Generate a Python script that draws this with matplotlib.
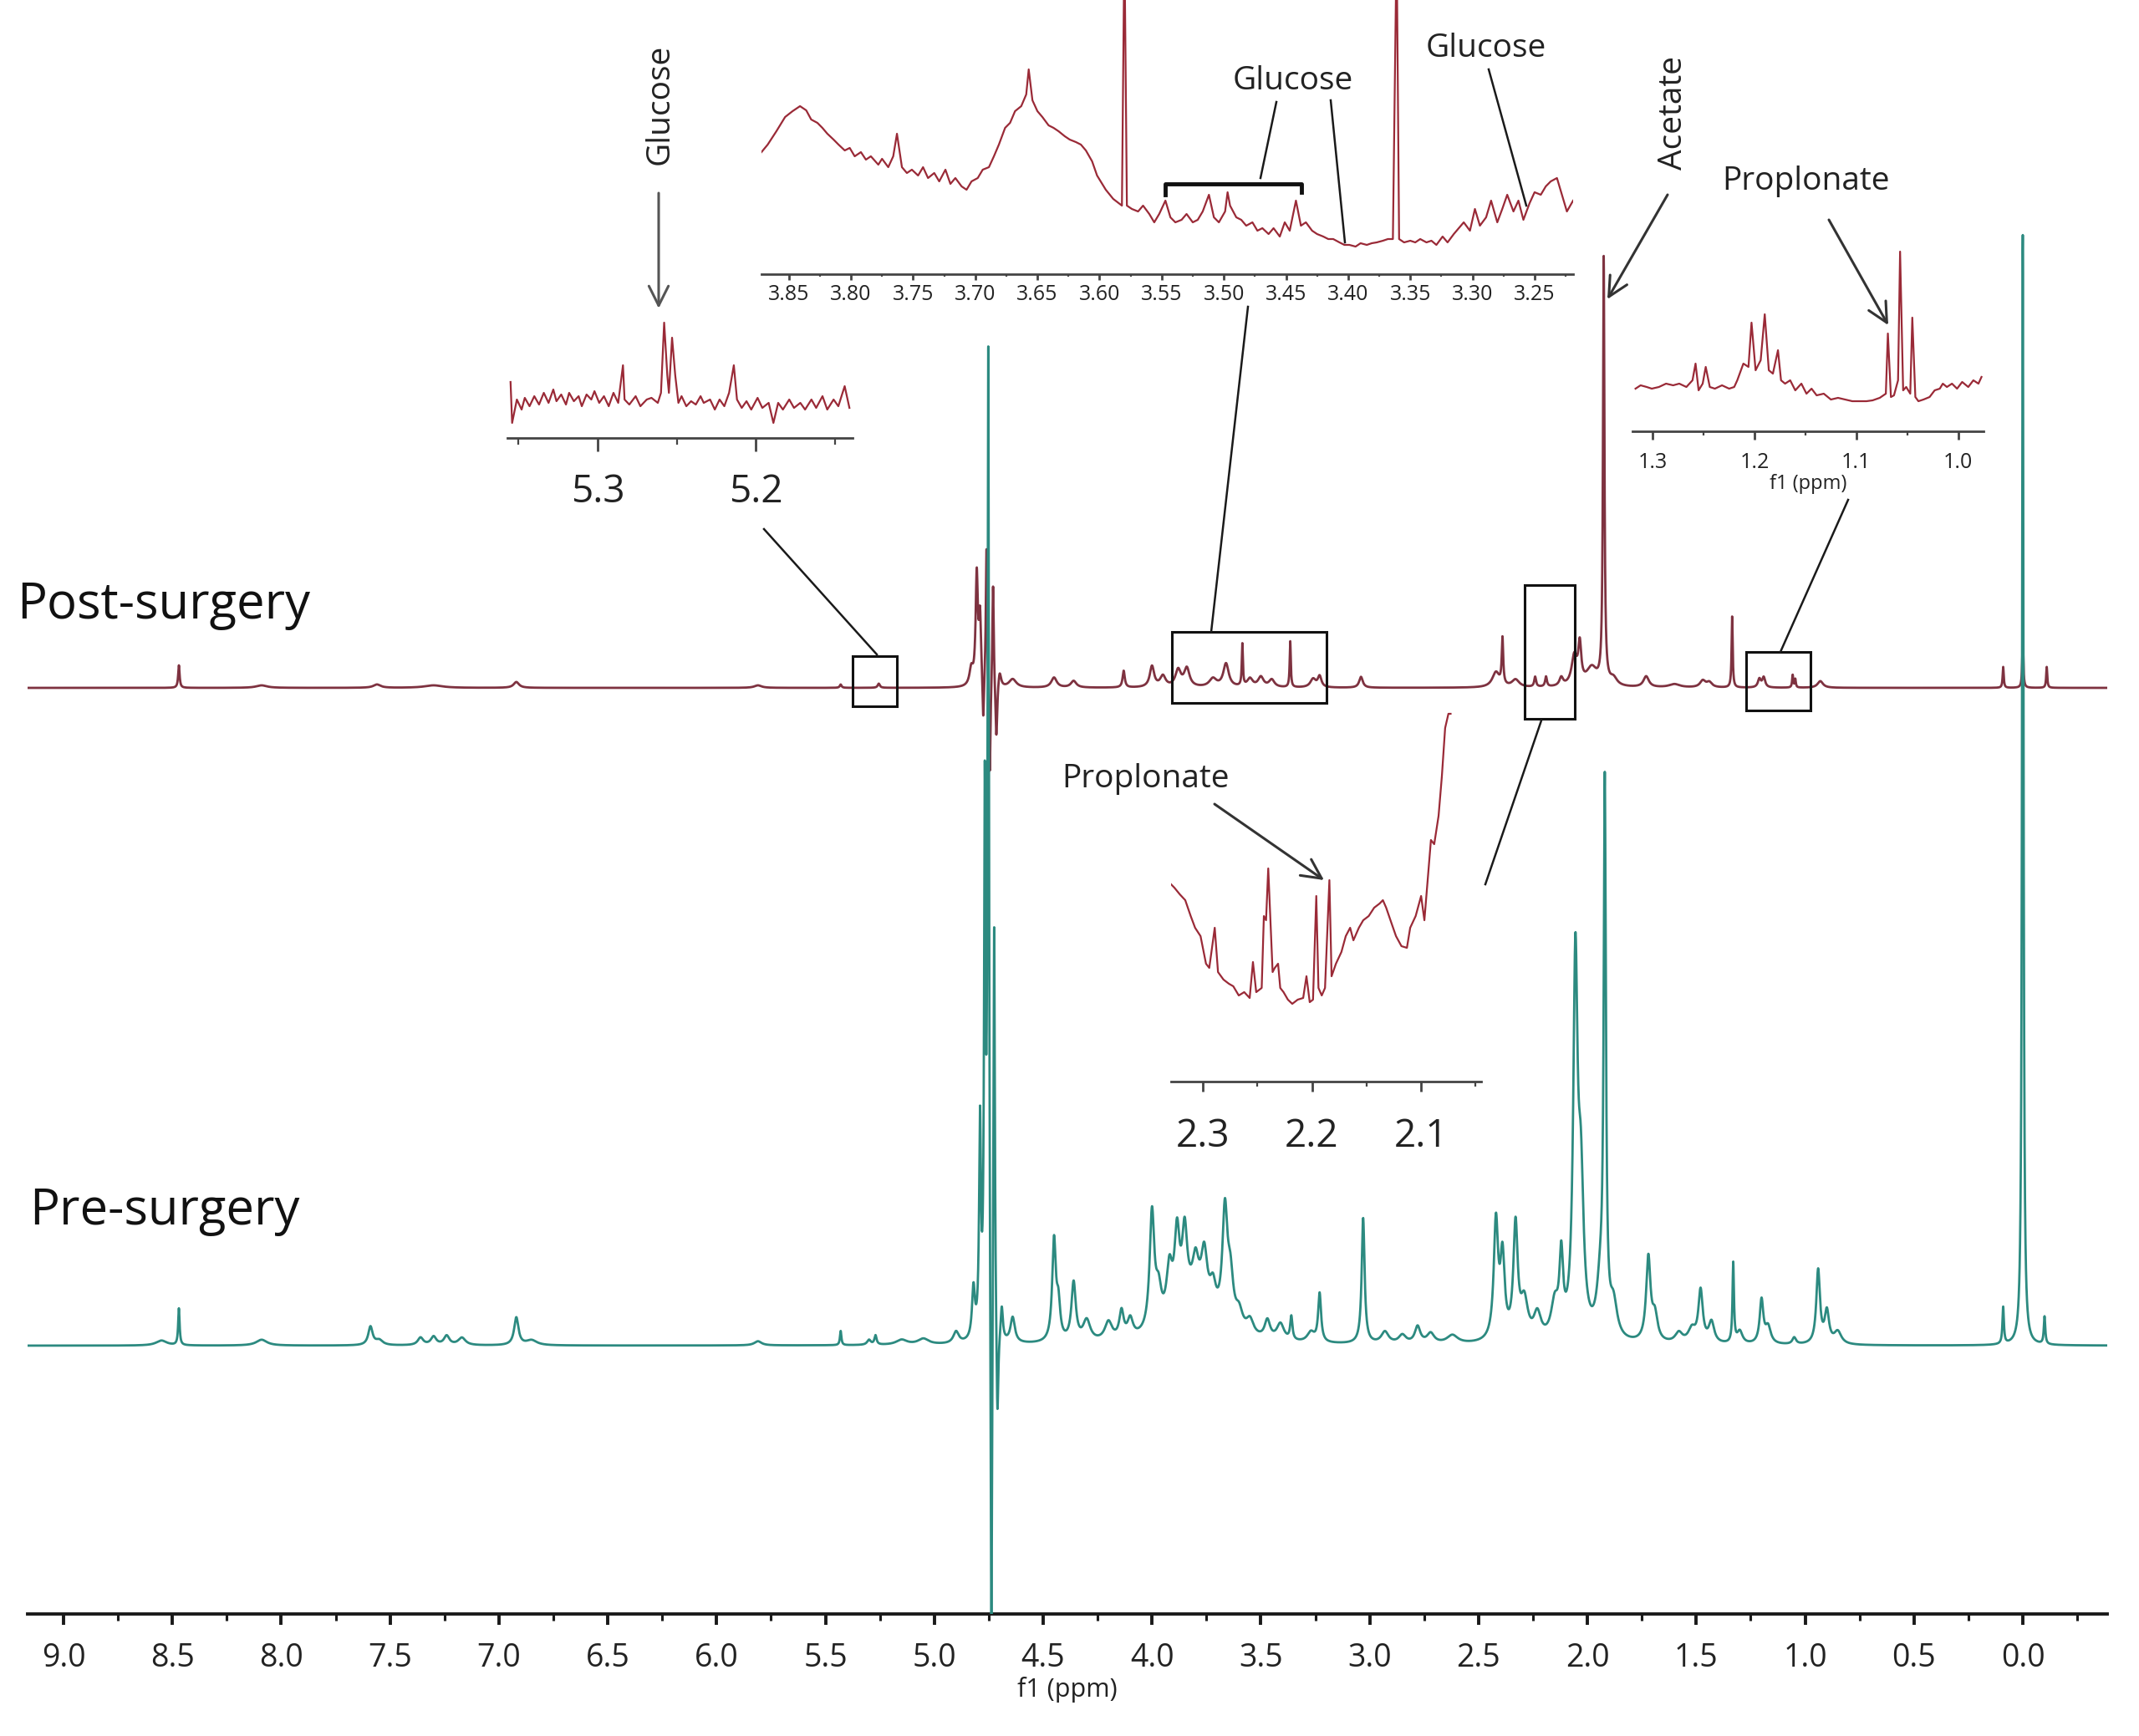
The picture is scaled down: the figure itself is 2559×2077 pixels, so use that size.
import numpy as np
import matplotlib
matplotlib.use("Agg")
import matplotlib.pyplot as plt
from matplotlib.ticker import MultipleLocator, FormatStrFormatter

plt.rcParams['font.family'] = ['Open Sans', 'DejaVu Sans']

W, H = 2559, 2077

# --- main spectra: peak lists (ppm, height, half width) ---
# pre-surgery (teal)
pre_ppm = [8.55, 8.47, 8.09, 7.59, 7.55, 7.36, 7.30, 7.24, 7.17, 6.92, 6.85,
           5.81, 5.43, 5.30, 5.27, 5.15, 5.05, 4.90,
           4.82, 4.79, 4.768, 4.752, 4.738, 4.725, 4.71, 4.69, 4.64,
           4.45, 4.43, 4.36, 4.30, 4.20, 4.14, 4.10, 4.00, 3.97, 3.92, 3.885,
           3.85, 3.80, 3.76, 3.72, 3.80, 3.665, 3.64, 3.60, 3.55, 3.47, 3.41,
           3.36, 3.27, 3.23, 3.03, 2.93, 2.85, 2.78, 2.72, 2.62,
           2.42, 2.39, 2.33, 2.29, 2.23, 2.15, 2.12, 2.055, 2.03,
           1.94, 1.92, 1.88, 1.72, 1.69, 1.58, 1.52, 1.48, 1.43, 1.33, 1.30,
           1.20, 1.17, 1.05, 0.94, 0.90, 0.85, 0.09, 0.0, -0.10]
pre_height = [6, 44, 7, 22, 6, 9, 10, 11, 9, 33, 6,
              5, 17, 6, 11, 6, 7, 14,
              60, 250, 620, 1180, -500, 520, -120, 40, 30,
              120, 40, 70, 25, 22, 32, 22, 140, 40, 60, 92,
              85, 40, 58, 30, 55, 132, 55, 22, 18, 22, 20,
              28, 12, 58, 150, 14, 10, 20, 12, 10,
              140, 95, 135, 45, 30, 40, 90, 440, 170,
              60, 640, 40, 100, 30, 12, 16, 62, 25, 95, 15,
              52, 20, 8, 88, 38, 15, 44, 1330, 33]
pre_width = [0.03, 0.004, 0.03, 0.012, 0.02, 0.015, 0.015, 0.015, 0.02, 0.012, 0.03,
             0.02, 0.004, 0.01, 0.006, 0.03, 0.03, 0.015,
             0.008, 0.005, 0.004, 0.004, 0.004, 0.004, 0.005, 0.006, 0.012,
             0.010, 0.010, 0.012, 0.02, 0.02, 0.012, 0.015, 0.013, 0.016, 0.016, 0.014,
             0.014, 0.016, 0.016, 0.016, 0.10, 0.014, 0.016, 0.02, 0.02, 0.015, 0.02,
             0.006, 0.02, 0.008, 0.008, 0.02, 0.02, 0.015, 0.02, 0.03,
             0.012, 0.012, 0.012, 0.02, 0.02, 0.02, 0.01, 0.012, 0.015,
             0.02, 0.006, 0.02, 0.012, 0.015, 0.02, 0.02, 0.012, 0.015, 0.004, 0.015,
             0.01, 0.015, 0.01, 0.01, 0.012, 0.02, 0.004, 0.004, 0.004]

# post-surgery (dark red)
post_ppm = [8.47, 8.09, 7.56, 7.30, 6.92, 5.81, 5.43, 5.255,
            4.83, 4.805, 4.79, 4.775, 4.76, 4.745, 4.73, 4.715, 4.70,
            4.64, 4.45, 4.36, 4.13, 4.00, 3.95, 3.88, 3.84, 3.72, 3.66, 3.585,
            3.55, 3.50, 3.45, 3.365, 3.26, 3.23, 3.04,
            2.42, 2.39, 2.33, 2.24, 2.19, 2.12, 2.06, 2.035, 1.98, 1.925, 1.88,
            1.73, 1.60, 1.47, 1.44, 1.335, 1.21, 1.19, 1.057, 1.045, 0.93,
            0.09, 0.0, -0.11]
post_height = [27, 3, 4, 3, 7, 3, 4, 5,
               20, 130, 80, -60, 170, -120, 130, -70, 20,
               10, 12, 8, 20, 25, 13, 20, 22, 10, 28, 50,
               10, 12, 9, 55, 10, 13, 13,
               18, 55, 9, 12, 12, 10, 35, 45, 22, 510, 9,
               13, 4, 8, 6, 85, 10, 12, 15, 10, 8,
               25, 60, 25]
post_width = [0.004, 0.03, 0.02, 0.05, 0.015, 0.02, 0.005, 0.006,
              0.01, 0.006, 0.006, 0.004, 0.004, 0.004, 0.004, 0.005, 0.008,
              0.02, 0.015, 0.015, 0.006, 0.012, 0.015, 0.015, 0.015, 0.02, 0.015, 0.003,
              0.015, 0.015, 0.015, 0.003, 0.015, 0.01, 0.01,
              0.02, 0.004, 0.02, 0.005, 0.005, 0.01, 0.015, 0.008, 0.03, 0.004, 0.02,
              0.015, 0.03, 0.015, 0.015, 0.003, 0.008, 0.008, 0.003, 0.003, 0.015,
              0.003, 0.003, 0.003]

POST_BASE = 1108
PRE_BASE = 321

# --- zoom boxes on the post-surgery trace (ppm range, intensity range) ---
box_ppm = [(5.375, 5.171), (3.907, 3.200), (2.290, 2.059), (1.272, 0.976)]
box_int = [(-22, 38), (-18, 67), (-37, 123), (-27, 43)]

# --- inset traces ---
inA_ppm = [5.355, 5.354, 5.351, 5.348, 5.346, 5.343, 5.340, 5.337, 5.334, 5.331,
           5.328, 5.326, 5.323, 5.320, 5.318, 5.315, 5.312, 5.310, 5.307, 5.304,
           5.302, 5.299, 5.296, 5.293, 5.290, 5.287, 5.284, 5.283, 5.280, 5.276,
           5.273, 5.269, 5.266, 5.262, 5.260, 5.258, 5.256, 5.255, 5.253, 5.251,
           5.249, 5.247, 5.244, 5.241, 5.238, 5.235, 5.233, 5.229, 5.226, 5.223,
           5.220, 5.217, 5.214, 5.212, 5.209, 5.206, 5.203, 5.199, 5.196, 5.192,
           5.189, 5.186, 5.183, 5.179, 5.176, 5.172, 5.169, 5.165, 5.162, 5.158,
           5.155, 5.151, 5.148, 5.144, 5.141]
inA_int = [29, -20, 8, -4, 10, 0, 12, 2, 16, 4,
           20, 6, 14, 2, 16, 6, 12, 0, 14, 8,
           18, 4, 12, 0, 16, 4, 49, 8, 2, 12,
           0, 8, 10, 4, 16, 100, 37, 16, 82, 37,
           4, 12, 0, 6, 2, 12, 4, 8, -4, 8,
           0, 16, 49, 8, -2, 6, -4, 10, -2, 4,
           -20, 4, -4, 8, -2, 4, -4, 8, -2, 12,
           -4, 8, 0, 24, -2]

inB_ppm = [3.872, 3.867, 3.860, 3.853, 3.847, 3.841, 3.836, 3.832, 3.827, 3.823,
           3.819, 3.814, 3.810, 3.805, 3.801, 3.797, 3.792, 3.788, 3.784, 3.778,
           3.775, 3.770, 3.766, 3.763, 3.759, 3.755, 3.751, 3.746, 3.742, 3.738,
           3.733, 3.729, 3.724, 3.720, 3.716, 3.711, 3.707, 3.703, 3.698, 3.694,
           3.689, 3.685, 3.681, 3.676, 3.672, 3.668, 3.663, 3.659, 3.657, 3.654,
           3.650, 3.646, 3.641, 3.637, 3.633, 3.628, 3.624, 3.619, 3.615, 3.611,
           3.606, 3.602, 3.595, 3.589, 3.582, 3.580, 3.578, 3.574, 3.569, 3.565,
           3.560, 3.556, 3.552, 3.547, 3.543, 3.539, 3.534, 3.530, 3.525, 3.521,
           3.517, 3.512, 3.508, 3.504, 3.499, 3.497, 3.495, 3.490, 3.486, 3.482,
           3.477, 3.473, 3.469, 3.464, 3.460, 3.455, 3.451, 3.447, 3.442, 3.438,
           3.434, 3.429, 3.425, 3.420, 3.416, 3.412, 3.407, 3.403, 3.399, 3.394,
           3.390, 3.385, 3.381, 3.377, 3.372, 3.368, 3.364, 3.361, 3.359, 3.355,
           3.350, 3.346, 3.342, 3.337, 3.333, 3.329, 3.324, 3.320, 3.315, 3.311,
           3.307, 3.302, 3.298, 3.294, 3.289, 3.285, 3.280, 3.276, 3.272, 3.267,
           3.263, 3.259, 3.254, 3.250, 3.245, 3.241, 3.237, 3.232, 3.228, 3.224,
           3.219]
inB_int = [146, 155, 171, 188, 195, 201, 196, 185, 181, 175,
           168, 161, 155, 148, 151, 141, 146, 137, 141, 131,
           138, 128, 141, 168, 128, 121, 125, 118, 128, 115,
           121, 111, 125, 108, 115, 105, 101, 111, 115, 125,
           128, 141, 155, 175, 181, 195, 201, 215, 245, 208,
           195, 188, 178, 175, 171, 165, 161, 158, 155, 148,
           135, 118, 101, 90, 82, 400, 82, 78, 75, 82,
           72, 62, 72, 88, 68, 62, 65, 72, 62, 65,
           75, 95, 68, 62, 75, 98, 82, 68, 65, 58,
           62, 52, 55, 48, 55, 45, 62, 52, 88, 58,
           62, 52, 48, 45, 42, 42, 38, 35, 35, 33,
           37, 35, 37, 38, 40, 42, 42, 400, 42, 38,
           40, 38, 42, 38, 40, 35, 45, 38, 48, 55,
           62, 52, 78, 58, 68, 88, 62, 78, 95, 75,
           88, 65, 85, 98, 95, 105, 111, 115, 95, 75,
           88]

inC_ppm = [2.329, 2.326, 2.321, 2.316, 2.311, 2.307, 2.302, 2.297, 2.294, 2.289,
           2.286, 2.281, 2.276, 2.272, 2.267, 2.262, 2.257, 2.254, 2.251, 2.246,
           2.244, 2.242, 2.240, 2.238, 2.236, 2.234, 2.231, 2.229, 2.226, 2.222,
           2.218, 2.213, 2.208, 2.205, 2.202, 2.199, 2.196, 2.194, 2.191, 2.188,
           2.184, 2.182, 2.178, 2.173, 2.169, 2.165, 2.162, 2.157, 2.153, 2.148,
           2.143, 2.138, 2.135, 2.132, 2.127, 2.123, 2.118, 2.113, 2.110, 2.105,
           2.100, 2.097, 2.094, 2.091, 2.088, 2.084, 2.081, 2.078, 2.075, 2.073]
inC_int = [236, 232, 224, 217, 198, 184, 174, 141, 136, 184,
           131, 122, 117, 114, 103, 107, 100, 143, 107, 112,
           198, 193, 255, 193, 131, 136, 141, 112, 107, 98,
           93, 98, 100, 126, 95, 98, 222, 112, 103, 112,
           241, 126, 141, 155, 174, 184, 169, 184, 193, 198,
           208, 213, 217, 208, 189, 174, 162, 160, 184, 198,
           222, 193, 241, 289, 284, 318, 365, 423, 440, 440]

inD_ppm = [1.317, 1.312, 1.306, 1.301, 1.294, 1.287, 1.280, 1.274, 1.267, 1.261,
           1.258, 1.255, 1.251, 1.248, 1.244, 1.239, 1.232, 1.225, 1.220, 1.217,
           1.211, 1.206, 1.203, 1.199, 1.194, 1.190, 1.186, 1.182, 1.177, 1.174,
           1.170, 1.165, 1.160, 1.154, 1.149, 1.144, 1.139, 1.132, 1.125, 1.118,
           1.111, 1.104, 1.097, 1.090, 1.084, 1.077, 1.071, 1.069, 1.066, 1.063,
           1.059, 1.057, 1.054, 1.051, 1.047, 1.045, 1.042, 1.039, 1.034, 1.028,
           1.023, 1.018, 1.015, 1.011, 1.006, 1.001, 0.996, 0.990, 0.985, 0.980,
           0.977]
inD_int = [51, 55, 53, 51, 53, 57, 55, 57, 53, 61,
           81, 49, 57, 77, 53, 51, 55, 51, 53, 61,
           81, 77, 130, 73, 85, 140, 73, 69, 97, 61,
           57, 61, 49, 57, 45, 51, 43, 45, 38, 40,
           38, 36, 36, 36, 37, 40, 45, 117, 41, 43,
           61, 215, 49, 53, 45, 136, 41, 36, 38, 41,
           49, 51, 57, 53, 57, 51, 59, 53, 61, 57,
           65]

POST_COLOR = '#7e3240'
PRE_COLOR = '#2c8a80'
INSET_COLOR = '#9a2a37'
INK = '#222222'


def lorentz_sum(x, centers, heights, widths):
    y = np.zeros_like(x)
    for c, h, w in zip(centers, heights, widths):
        y += h * w ** 2 / ((x - c) ** 2 + w ** 2)
    return y


def px_axes(fig, x0, x1, ytop, ybot):
    return fig.add_axes([x0 / W, 1 - ybot / H, (x1 - x0) / W, (ybot - ytop) / H])


def style_axis(ax, xlim, ylim, major, minor, fmt, fs, ticklen, pad, lw=2.0, color='#444444'):
    ax.set_xlim(*xlim)
    ax.set_ylim(*ylim)
    for s in ['left', 'right', 'top']:
        ax.spines[s].set_visible(False)
    ax.spines['bottom'].set_color(color)
    ax.spines['bottom'].set_linewidth(lw)
    ax.set_yticks([])
    ax.xaxis.set_major_locator(MultipleLocator(major))
    ax.xaxis.set_minor_locator(MultipleLocator(minor))
    ax.xaxis.set_major_formatter(FormatStrFormatter(fmt))
    ax.tick_params(axis='x', which='major', length=ticklen, width=lw, pad=pad,
                   labelsize=fs, color=color, labelcolor=INK)
    ax.tick_params(axis='x', which='minor', length=ticklen * 0.5, width=lw * 0.8, color=color)
    ax.patch.set_visible(False)


fig = plt.figure(figsize=(W / 100, H / 100), dpi=100)

# main spectrum axes
ax = px_axes(fig, 33, 2521, 0, 1931)
style_axis(ax, (9.165, -0.388), (0, 1931), 0.5, 0.25, '%.1f', 27, 9.5, 15,
           lw=2.8, color='#1a1a1a')
ax.tick_params(axis='x', which='minor', length=6)
ax.set_xlabel('f1 (ppm)', fontsize=22, labelpad=2, color=INK)

x = np.linspace(9.165, -0.388, 30000)
post = POST_BASE + lorentz_sum(x, post_ppm, post_height, post_width)
pre = PRE_BASE + lorentz_sum(x, pre_ppm, pre_height, pre_width)
ax.plot(x, post, color=POST_COLOR, lw=2.0, zorder=2)
ax.plot(x, pre, color=PRE_COLOR, lw=2.0, zorder=3)

for (p0, p1), (i0, i1) in zip(box_ppm, box_int):
    ax.add_patch(plt.Rectangle((p1, POST_BASE + i0), p0 - p1, i1 - i0,
                               fill=False, ec='#111111', lw=2.2, zorder=4))

# insets
axA = px_axes(fig, 607, 1020, 370, 524)
style_axis(axA, (5.357, 5.139), (-38, 116), 0.1, 0.05, '%.1f', 33, 11.5, 19)
axA.plot(inA_ppm, inA_int, color=INSET_COLOR, lw=1.6)

axB = px_axes(fig, 911, 1882, 0, 328)
style_axis(axB, (3.872, 3.219), (0, 328), 0.05, 0.025, '%.2f', 18, 5, 3.5)
axB.plot(inB_ppm, inB_int, color=INSET_COLOR, lw=1.6)

axC = px_axes(fig, 1401, 1772, 840, 1294)
style_axis(axC, (2.329, 2.045), (0, 454), 0.1, 0.05, '%.1f', 33, 8.6, 22)
axC.plot(inC_ppm, inC_int, color=INSET_COLOR, lw=1.6)

axD = px_axes(fig, 1953, 2373, 280, 516)
style_axis(axD, (1.320, 0.975), (0, 236), 0.1, 0.05, '%.1f', 18, 7, 11)
axD.plot(inD_ppm, inD_int, color=INSET_COLOR, lw=1.6)
axD.set_xlabel('f1 (ppm)', fontsize=17, labelpad=1, color=INK)

# overlay for labels, arrows and connector lines (pixel coordinates)
ov = fig.add_axes([0, 0, 1, 1])
ov.set_xlim(0, W)
ov.set_ylim(H, 0)
ov.axis('off')
ov.patch.set_visible(False)

ov.text(20, 740, 'Post-surgery', fontsize=43, color='#111111', va='baseline')
ov.text(35, 1465, 'Pre-surgery', fontsize=43, color='#111111', va='baseline')

ann_fs = 28
ov.text(790, 125, 'Glucose', fontsize=ann_fs, rotation=90, ha='center', va='center', color=INK)
ov.text(1547, 97, 'Glucose', fontsize=ann_fs, ha='center', va='center', color=INK)
ov.text(1778, 58, 'Glucose', fontsize=ann_fs, ha='center', va='center', color=INK)
ov.text(2002, 135, 'Acetate', fontsize=ann_fs, rotation=90, ha='center', va='center', color=INK)
ov.text(2160, 217, 'Proplonate', fontsize=ann_fs, ha='center', va='center', color=INK)
ov.text(1370, 932, 'Proplonate', fontsize=ann_fs, ha='center', va='center', color=INK)

arrow_kw = dict(arrowstyle='->', lw=2.2, color='#333333', mutation_scale=42,
                shrinkA=0, shrinkB=0)
ov.annotate('', xy=(788, 369), xytext=(788, 231), arrowprops=dict(arrow_kw, color='#555555'))
ov.annotate('', xy=(1923, 358), xytext=(1995, 233), arrowprops=arrow_kw)
ov.annotate('', xy=(2259, 389), xytext=(2188, 263), arrowprops=arrow_kw)
ov.annotate('', xy=(1584, 1053), xytext=(1453, 962), arrowprops=arrow_kw)

line_kw = dict(color='#1a1a1a', lw=1.8)
# glucose pointers in the top inset
ov.plot([1527, 1508], [122, 213], **line_kw)
ov.plot([1592, 1609], [120, 290], **line_kw)
ov.plot([1781, 1826], [83, 246], **line_kw)
ov.plot([1394, 1394, 1557, 1557], [233, 220, 220, 230], color='#111111', lw=3.5)

# connectors from boxes to insets
ov.plot([1049, 914], [783, 633], **line_kw)
ov.plot([1449, 1493], [756, 367], **line_kw)
ov.plot([1844, 1777], [862, 1058], **line_kw)
ov.plot([2130, 2211], [780, 598], **line_kw)

fig.savefig('out.png', dpi=100, facecolor='white')
